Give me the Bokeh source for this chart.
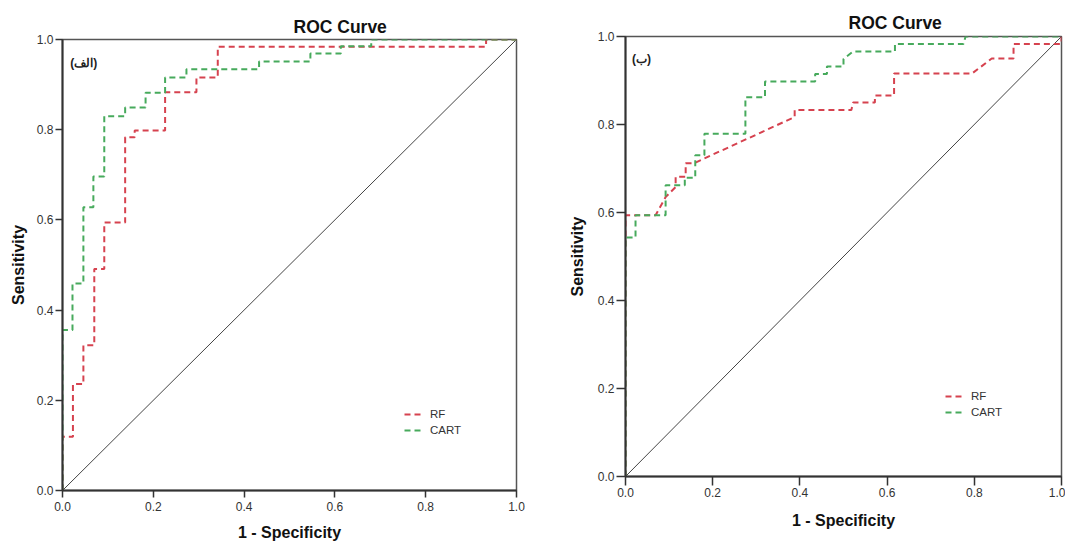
from bokeh.plotting import figure
from bokeh.models import Legend, LegendItem, FixedTicker, PrintfTickFormatter, Range1d, Label
from bokeh.layouts import row, column
from bokeh.embed import file_html
from bokeh.resources import INLINE

# ---------------- data: panel (الف) ----------------
a_rf_fpr = [0.0, 0.0, 0.023, 0.023, 0.046, 0.046, 0.070, 0.070, 0.092, 0.092,
            0.138, 0.138, 0.159, 0.159, 0.226, 0.226, 0.295, 0.295, 0.342, 0.342,
            0.933, 0.933, 1.0]
a_rf_tpr = [0.0, 0.119, 0.119, 0.236, 0.236, 0.322, 0.322, 0.491, 0.491, 0.594,
            0.594, 0.783, 0.783, 0.798, 0.798, 0.883, 0.883, 0.916, 0.916, 0.984,
            0.984, 1.0, 1.0]
a_cart_fpr = [0.0, 0.0, 0.022, 0.022, 0.046, 0.046, 0.068, 0.068, 0.092, 0.092,
              0.138, 0.138, 0.183, 0.183, 0.226, 0.226, 0.273, 0.273, 0.433, 0.433,
              0.546, 0.546, 0.613, 0.613, 0.680, 0.680, 1.0]
a_cart_tpr = [0.0, 0.356, 0.356, 0.459, 0.459, 0.628, 0.628, 0.696, 0.696, 0.830,
              0.830, 0.849, 0.849, 0.882, 0.882, 0.916, 0.916, 0.934, 0.934, 0.951,
              0.951, 0.969, 0.969, 0.985, 0.985, 1.0, 1.0]

# ---------------- data: panel (ب) ----------------
b_rf_fpr = [0.0, 0.0, 0.069, 0.092, 0.115, 0.115, 0.138, 0.138, 0.157, 0.388,
            0.388, 0.518, 0.522, 0.572, 0.572, 0.616, 0.616, 0.795, 0.840, 0.890,
            0.890, 1.0, 1.0]
b_rf_tpr = [0.0, 0.594, 0.594, 0.635, 0.658, 0.681, 0.681, 0.712, 0.712, 0.817,
            0.833, 0.833, 0.850, 0.850, 0.866, 0.866, 0.916, 0.916, 0.950, 0.950,
            0.983, 0.983, 1.0]
b_cart_fpr = [0.0, 0.0, 0.023, 0.023, 0.092, 0.092, 0.136, 0.136, 0.160, 0.160,
              0.181, 0.181, 0.275, 0.275, 0.320, 0.320, 0.435, 0.435, 0.462, 0.462,
              0.500, 0.500, 0.522, 0.618, 0.618, 0.775, 0.780, 1.0]
b_cart_tpr = [0.0, 0.543, 0.543, 0.594, 0.594, 0.662, 0.662, 0.679, 0.679, 0.730,
              0.730, 0.779, 0.779, 0.862, 0.862, 0.898, 0.898, 0.915, 0.915, 0.932,
              0.932, 0.949, 0.966, 0.966, 0.983, 0.983, 1.0, 1.0]

ref_x = [0.0, 1.0]
ref_y = [0.0, 1.0]
ticks = [0.0, 0.2, 0.4, 0.6, 0.8, 1.0]
series_names = ["RF", "CART"]
panel_tags = ["(الف)", "(ب)"]

RED = "#d6424f"
GREEN = "#47aa5c"
FONT = "Liberation Sans"


def make_panel(rf_x, rf_y, cart_x, cart_y, tag, width, height, mb_left, mb_right,
               mb_top, mb_bottom, title_offset, title_standoff, tick_out, tick_standoff,
               ylab_standoff, xlab_standoff, legend_loc, tag_xy):
    p = figure(width=width, height=height, output_backend="svg", toolbar_location=None,
               x_range=Range1d(0, 1), y_range=Range1d(0, 1),
               min_border_left=mb_left, min_border_right=mb_right,
               min_border_top=mb_top, min_border_bottom=mb_bottom,
               title="ROC Curve")
    p.title.align = "left"
    p.title.offset = title_offset
    p.title.standoff = title_standoff
    p.title.text_font = FONT
    p.title.text_font_size = "17.5px"
    p.title.text_font_style = "bold"
    p.title.text_color = "#111111"

    p.grid.visible = False
    p.outline_line_color = "#555555"
    p.outline_line_width = 1.5
    p.background_fill_color = "white"
    p.border_fill_color = "white"

    for ax in (p.xaxis[0], p.yaxis[0]):
        ax.ticker = FixedTicker(ticks=ticks)
        ax.formatter = PrintfTickFormatter(format="%.1f")
        ax.axis_line_color = "#333333"
        ax.axis_line_width = 2
        ax.major_tick_line_color = "#333333"
        ax.major_tick_line_width = 1.5
        ax.major_tick_out = tick_out
        ax.major_tick_in = 0
        ax.minor_tick_line_color = None
        ax.major_label_text_font = FONT
        ax.major_label_text_font_size = "12px"
        ax.major_label_text_color = "#333333"
        ax.major_label_standoff = tick_standoff
        ax.axis_label_text_font = FONT
        ax.axis_label_text_font_size = "16px"
        ax.axis_label_text_font_style = "bold"
        ax.axis_label_text_color = "#111111"
    p.yaxis.major_label_standoff = 2
    p.xaxis.axis_label = "1 - Specificity"
    p.yaxis.axis_label = "Sensitivity"
    p.xaxis.axis_label_standoff = xlab_standoff
    p.yaxis.axis_label_standoff = ylab_standoff

    p.line(ref_x, ref_y, line_color="#444444", line_width=1)
    r_rf = p.line(rf_x, rf_y, line_color=RED, line_width=2, line_dash="6 4")
    r_cart = p.line(cart_x, cart_y, line_color=GREEN, line_width=2, line_dash="6 4")

    legend = Legend(items=[LegendItem(label=series_names[0], renderers=[r_rf]),
                           LegendItem(label=series_names[1], renderers=[r_cart])],
                    location=legend_loc, orientation="vertical",
                    border_line_alpha=0, background_fill_alpha=0,
                    padding=0, margin=0, spacing=2,
                    glyph_width=18, glyph_height=14, label_height=14,
                    label_standoff=8,
                    label_text_font=FONT, label_text_font_size="11.5px",
                    label_text_color="#333333")
    p.add_layout(legend, "center")

    p.add_layout(Label(x=tag_xy[0], y=tag_xy[1], text=tag, text_font=FONT,
                       text_font_size="12px", text_font_style="bold",
                       text_color="#222222", text_baseline="middle", text_align="left"))
    return p


p1 = make_panel(a_rf_fpr, a_rf_tpr, a_cart_fpr, a_cart_tpr, panel_tags[0],
                width=530, height=543, mb_left=62, mb_right=14, mb_top=39, mb_bottom=50,
                title_offset=231, title_standoff=6, tick_out=7, tick_standoff=4,
                ylab_standoff=7, xlab_standoff=10, legend_loc=(342, 53),
                tag_xy=(0.017, 0.947))
p2 = make_panel(b_rf_fpr, b_rf_tpr, b_cart_fpr, b_cart_tpr, panel_tags[1],
                width=535, height=543, mb_left=95, mb_right=4, mb_top=36, mb_bottom=67,
                title_offset=223, title_standoff=8, tick_out=9, tick_standoff=2,
                ylab_standoff=9, xlab_standoff=12, legend_loc=(320, 57),
                tag_xy=(0.015, 0.95))

layout = row(p1, column(p2))
open("out.html", "w").write(file_html(layout, INLINE))
